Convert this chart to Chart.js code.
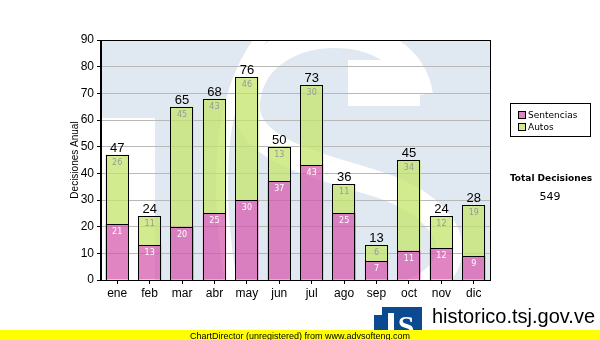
<!DOCTYPE html>
<html>
<head>
<meta charset="utf-8">
<script src="https://cdn.jsdelivr.net/npm/chart.js@4.4.1/dist/chart.umd.min.js"></script>
<style>
  body { margin: 0; background: #fff; }
  #wrap { position: relative; width: 600px; height: 340px; }
</style>
</head>
<body>
<div id="wrap"><canvas id="chart" width="600" height="340"></canvas></div>
<script>
// data
const months = ['ene', 'feb', 'mar', 'abr', 'may', 'jun', 'jul', 'ago', 'sep', 'oct', 'nov', 'dic'];
const sentencias = [21, 13, 20, 25, 30, 37, 43, 25, 7, 11, 12, 9];
const autos = [26, 11, 45, 43, 46, 13, 30, 11, 6, 34, 12, 19];
const yTicks = [0, 10, 20, 30, 40, 50, 60, 70, 80, 90];

const totals = months.map((m, i) => sentencias[i] + autos[i]);
const grandTotal = totals.reduce((a, b) => a + b, 0);

const pink = 'rgba(214,84,170,0.72)';
const green = 'rgba(196,228,105,0.75)';

// light blue logo watermark behind the bars
const watermark = {
    id: 'watermark',
    beforeDraw(chart) {
        const { ctx, chartArea: a } = chart;
        ctx.save();
        ctx.beginPath();
        ctx.rect(a.left, a.top, a.right - a.left, a.bottom - a.top);
        ctx.clip();
        ctx.fillStyle = '#e0e9f2';
        ctx.fillRect(a.left, a.top, a.right - a.left, a.bottom - a.top);
        ctx.fillStyle = '#fff';
        ctx.fillRect(a.left, 118, 155 - a.left, a.bottom - 118);
        ctx.strokeStyle = '#fff';
        ctx.lineCap = 'butt';
        // gap next to the T stem
        ctx.lineWidth = 12;
        ctx.beginPath();
        ctx.moveTo(268, 30);
        ctx.bezierCurveTo(225, 80, 210, 160, 232, 290);
        ctx.stroke();
        // the S
        ctx.lineWidth = 26;
        ctx.beginPath();
        ctx.moveTo(420, 95);
        ctx.bezierCurveTo(408, 15, 262, 15, 248, 95);
        ctx.bezierCurveTo(235, 150, 320, 165, 380, 185);
        ctx.bezierCurveTo(470, 215, 475, 285, 380, 300);
        ctx.stroke();
        ctx.fillStyle = '#fff';
        ctx.fillRect(348, 60, 72, 46);
        ctx.restore();
    }
};

// bar outlines, value labels, plot frame and the side texts
const labels = {
    id: 'labels',
    afterDatasetsDraw(chart) {
        const { ctx, chartArea: a } = chart;
        const y = chart.scales.y;
        ctx.save();
        ctx.strokeStyle = '#000';
        ctx.lineWidth = 1;
        [0, 1].forEach(d => {
            chart.getDatasetMeta(d).data.forEach(bar => {
                const p = bar.getProps(['x', 'y', 'base', 'width'], true);
                const l = Math.round(p.x - p.width / 2) + 0.5;
                const t = Math.round(p.y) + 0.5;
                ctx.strokeRect(l, t, Math.round(p.width) - 1, Math.round(p.base) - Math.round(p.y));
            });
        });

        ctx.textAlign = 'center';
        ctx.textBaseline = 'top';
        ctx.font = '8px "DejaVu Sans"';
        chart.getDatasetMeta(0).data.forEach((bar, i) => {
            ctx.fillStyle = '#ffffff';
            ctx.fillText(sentencias[i], bar.x, bar.y + 4);
        });
        chart.getDatasetMeta(1).data.forEach((bar, i) => {
            ctx.fillStyle = '#999999';
            ctx.fillText(autos[i], bar.x, bar.y + 4);
            ctx.fillStyle = '#000';
            ctx.font = '13px "Liberation Sans"';
            ctx.textBaseline = 'alphabetic';
            ctx.fillText(totals[i], bar.x, y.getPixelForValue(totals[i]) - 3);
            ctx.font = '8px "DejaVu Sans"';
            ctx.textBaseline = 'top';
        });

        // frame
        ctx.strokeRect(Math.round(a.left) - 0.5, Math.round(a.top) + 0.5, Math.round(a.right - a.left) + 1, Math.round(a.bottom - a.top));

        // y axis title
        ctx.save();
        ctx.translate(75, (a.top + a.bottom) / 2);
        ctx.rotate(-Math.PI / 2);
        ctx.font = '10px "Liberation Sans"';
        ctx.textAlign = 'center';
        ctx.textBaseline = 'middle';
        ctx.fillText('Decisiones Anual', 0, 0);
        ctx.restore();

        // legend box
        ctx.fillStyle = '#fff';
        ctx.fillRect(510, 103, 80, 33);
        ctx.strokeRect(510.5, 103.5, 80, 33);
        const items = [['Sentencias', pink], ['Autos', green]];
        items.forEach((it, k) => {
            const yy = 111 + k * 12;
            ctx.fillStyle = it[1];
            ctx.fillRect(518, yy, 8, 8);
            ctx.strokeRect(518.5, yy + 0.5, 7, 7);
            ctx.fillStyle = '#000';
            ctx.font = '9px "DejaVu Sans"';
            ctx.textAlign = 'left';
            ctx.textBaseline = 'middle';
            ctx.fillText(it[0], 528, yy + 4.5);
        });

        // total
        ctx.textAlign = 'center';
        ctx.textBaseline = 'alphabetic';
        ctx.fillStyle = '#000';
        ctx.font = 'bold 9px "DejaVu Sans"';
        ctx.fillText('Total Decisiones', 551, 181);
        ctx.font = '11px "DejaVu Sans"';
        ctx.fillText(String(grandTotal), 550, 200);

        // site logo
        ctx.fillStyle = '#0b4a8e';
        ctx.fillRect(374, 307, 48, 33);
        ctx.fillStyle = '#fff';
        ctx.fillRect(374, 307, 8, 8);
        ctx.fillRect(388, 313, 6, 27);
        ctx.font = 'bold 30px "Liberation Serif"';
        ctx.textAlign = 'center';
        ctx.fillText('S', 406, 336);
        ctx.fillStyle = '#000';
        ctx.textAlign = 'left';
        ctx.font = '20px "Liberation Sans"';
        ctx.fillText('historico.tsj.gov.ve', 432, 323);
        ctx.font = '9px "Liberation Sans"';
        ctx.fillText('Tribunal Supremo de Justicia', 432, 337);

        // unregistered banner
        ctx.fillStyle = '#ffff00';
        ctx.fillRect(0, 330, 600, 10);
        ctx.fillStyle = '#000';
        ctx.font = '9px "Liberation Sans"';
        ctx.fillText('ChartDirector (unregistered) from www.advsofteng.com', 190, 338.5);
        ctx.restore();
    }
};

new Chart(document.getElementById('chart'), {
    type: 'bar',
    data: {
        labels: months,
        datasets: [{
            label: 'Sentencias',
            data: sentencias,
            backgroundColor: pink,
            borderWidth: 0,
            barPercentage: 0.72,
            categoryPercentage: 1
        }, {
            label: 'Autos',
            data: autos,
            backgroundColor: green,
            borderWidth: 0,
            barPercentage: 0.72,
            categoryPercentage: 1
        }]
    },
    options: {
        responsive: false,
        animation: false,
        layout: { padding: { left: 0, top: 40, right: 110, bottom: 0 } },
        plugins: {
            legend: { display: false },
            tooltip: { enabled: false }
        },
        scales: {
            x: {
                stacked: true,
                afterFit: s => { s.height = 60; },
                grid: { display: true, drawOnChartArea: false, offset: false, tickLength: 4, tickColor: '#000' },
                border: { color: '#000' },
                ticks: { color: '#000', font: { family: 'Liberation Sans', size: 12 }, padding: 2 }
            },
            y: {
                stacked: true,
                min: 0,
                max: 90,
                afterFit: s => { s.width = 101; },
                afterBuildTicks: s => { s.ticks = yTicks.map(v => ({ value: v })); },
                grid: { color: '#b8b8b8', tickColor: '#000', tickLength: 4 },
                border: { color: '#000' },
                ticks: { color: '#000', font: { family: 'Liberation Sans', size: 12 }, padding: 3 }
            }
        }
    },
    plugins: [watermark, labels]
});
</script>
</body>
</html>
